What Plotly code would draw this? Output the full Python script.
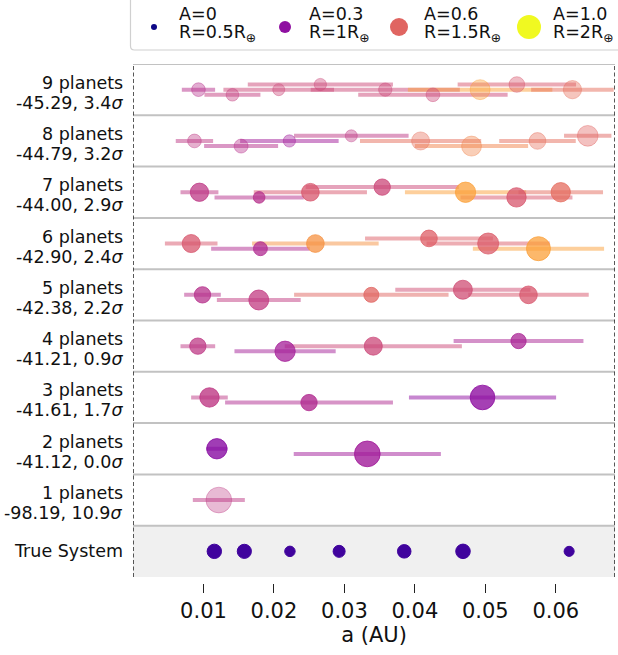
import plotly.graph_objects as go
from plotly.colors import sample_colorscale, unlabel_rgb

# ---------------------------------------------------------------- data
# Model rows, top to bottom: 9 planets ... 1 planet
n_planets = [9, 8, 7, 6, 5, 4, 3, 2, 1]
log_like = ["-45.29", "-44.79", "-44.00", "-42.90", "-42.38",
            "-41.21", "-41.61", "-41.12", "-98.19"]
sigma = ["3.4", "3.2", "2.9", "2.4", "2.2", "0.9", "1.7", "0.0", "10.9"]

# semi-major axis (AU) of each fitted planet
semimajor = [
    [0.00929, 0.01411, 0.02068, 0.02659, 0.0358, 0.04256, 0.04926, 0.05447, 0.06236],
    [0.00872, 0.01534, 0.02219, 0.03098, 0.04081, 0.04804, 0.0574, 0.06453],
    [0.00943, 0.0179, 0.02517, 0.03537, 0.04719, 0.05442, 0.0607],
    [0.00826, 0.01808, 0.02588, 0.042, 0.0504, 0.05754],
    [0.00986, 0.01785, 0.03382, 0.04681, 0.05612],
    [0.0092, 0.02158, 0.0341, 0.05471],
    [0.01085, 0.02498, 0.0496],
    [0.0119, 0.03325],
    [0.01218],
]
# 1-sigma uncertainty on the semi-major axis (AU)
semimajor_err = [
    [0.00236, 0.00397, 0.00785, 0.0103, 0.01058, 0.0106, 0.01025, 0.0084, 0.00586],
    [0.00265, 0.00525, 0.00699, 0.00813, 0.0086, 0.00803, 0.00543, 0.00336],
    [0.00269, 0.00633, 0.00803, 0.01087, 0.0086, 0.00794, 0.006],
    [0.00373, 0.00699, 0.00898, 0.00907, 0.00874, 0.00931],
    [0.0026, 0.00595, 0.01096, 0.00959, 0.00855],
    [0.00246, 0.00718, 0.01257, 0.00921],
    [0.0026, 0.01191, 0.01044],
    [0.00151, 0.01044],
    [0.00369],
]
# planet radius (Earth radii)
radius = [
    [1.06, 0.97, 0.92, 0.94, 1.03, 1.06, 1.58, 1.22, 1.44],
    [1.06, 1.08, 0.94, 0.92, 1.42, 1.58, 1.31, 1.64],
    [1.44, 0.89, 1.39, 1.28, 1.61, 1.53, 1.53],
    [1.42, 1.08, 1.39, 1.31, 1.67, 1.92],
    [1.28, 1.58, 1.17, 1.5, 1.39],
    [1.28, 1.61, 1.42, 1.19],
    [1.53, 1.28, 1.97],
    [1.61, 2.06],
    [2.06],
]
# albedo
albedo = [
    [0.42, 0.47, 0.5, 0.5, 0.5, 0.5, 0.78, 0.55, 0.63],
    [0.45, 0.42, 0.35, 0.45, 0.63, 0.7, 0.63, 0.6],
    [0.45, 0.42, 0.55, 0.5, 0.78, 0.55, 0.62],
    [0.55, 0.4, 0.74, 0.58, 0.57, 0.78],
    [0.42, 0.46, 0.6, 0.52, 0.55],
    [0.45, 0.36, 0.5, 0.38],
    [0.45, 0.4, 0.3],
    [0.28, 0.35],
    [0.45],
]

# true system
true_a = [0.01154, 0.01580, 0.02227, 0.02925, 0.03849, 0.04683, 0.06189]
true_r = [1.116, 1.097, 0.788, 0.920, 1.045, 1.129, 0.755]
true_albedo = 0.1

# legend entries
legend_A = [0, 0.3, 0.6, 1.0]
legend_R = [0.5, 1, 1.5, 2]
legend_A_text = ["A=0", "A=0.3", "A=0.6", "A=1.0"]
legend_R_text = ["R=0.5R", "R=1R", "R=1.5R", "R=2R"]

# ---------------------------------------------------------------- style
W, H = 618, 655
BOTTOM = 72
PH = H - BOTTOM          # height of the paper area in px
X_MAX = 0.0684
ROW_PX = 51.3
Y_MIN = -6 / ROW_PX
FONT = "DejaVu Sans"
row_alpha = [0.4, 0.4, 0.75, 0.75, 0.75, 0.75, 0.8, 0.8, 0.35]
BAR_ALPHA = 0.5
JITTER = 0.1
jitter_cycle = [0, -1, 0, 1]


def px_x(px):
    return px / W


def px_y(py):
    return (PH - py) / PH


def size_of(r):
    return 1 + 12 * r


def plasma(a, alpha=1.0):
    r, g, b = unlabel_rgb(sample_colorscale("Plasma", [a])[0])
    return f"rgba({r:.0f},{g:.0f},{b:.0f},{alpha})"


fig = go.Figure()

# error bars first, markers on top
marker_traces = []
for k, n in enumerate(n_planets):
    yc = n + 0.5
    ys = [yc + JITTER * jitter_cycle[i % 4] for i in range(len(semimajor[k]))]
    for a, e, A, y in zip(semimajor[k], semimajor_err[k], albedo[k], ys):
        fig.add_trace(go.Scatter(
            x=[a - e, a + e], y=[y, y], mode="lines",
            line=dict(color=plasma(A, BAR_ALPHA), width=4),
            hoverinfo="skip", showlegend=False))
    cols = [plasma(A, row_alpha[k]) for A in albedo[k]]
    marker_traces.append(go.Scatter(
        x=semimajor[k], y=ys, mode="markers",
        marker=dict(size=[size_of(r) for r in radius[k]], color=cols,
                    opacity=1, line=dict(color=cols, width=1)),
        showlegend=False))
for t in marker_traces:
    fig.add_trace(t)

fig.add_trace(go.Scatter(
    x=true_a, y=[0.5] * len(true_a), mode="markers",
    marker=dict(size=[size_of(r) for r in true_r], color=plasma(true_albedo),
                opacity=1, line=dict(color=plasma(true_albedo), width=1)),
    showlegend=False))

# legend drawn on its own pixel-scaled axes
leg_marker_x = [154, 285, 399, 529]
leg_text_x = [177, 307, 422, 551]
fig.add_trace(go.Scatter(
    x=leg_marker_x, y=[27] * 4, mode="markers", xaxis="x2", yaxis="y2",
    marker=dict(size=[size_of(r) - 1 for r in legend_R], opacity=1,
                color=[plasma(a) for a in legend_A], line=dict(width=0)),
    showlegend=False))

annotations = []
for i in range(4):
    annotations.append(dict(x=leg_text_x[i], y=14, xref="x2", yref="y2",
                            text=legend_A_text[i], showarrow=False,
                            xanchor="left", yanchor="middle",
                            font=dict(family=FONT, size=17.5, color="#111")))
    annotations.append(dict(x=leg_text_x[i], y=33, xref="x2", yref="y2",
                            text=legend_R_text[i] + "<sub>⊕</sub>",
                            showarrow=False, xanchor="left", yanchor="middle",
                            font=dict(family=FONT, size=17.5, color="#111")))

# row labels
for k, n in enumerate(n_planets):
    annotations.append(dict(x=px_x(125), y=n + 0.5, xref="paper", yref="y",
                            text=f"{n} planets", showarrow=False,
                            xanchor="right", yanchor="middle", yshift=7,
                            font=dict(family=FONT, size=17.5, color="#111")))
    annotations.append(dict(x=px_x(125), y=n + 0.5, xref="paper", yref="y",
                            text=f"{log_like[k]}, {sigma[k]}<i>σ</i>",
                            showarrow=False, xanchor="right",
                            yanchor="middle", yshift=-13,
                            font=dict(family=FONT, size=17.5, color="#111")))
annotations.append(dict(x=px_x(125), y=0.5, xref="paper", yref="y",
                        text="True System", showarrow=False,
                        xanchor="right", yanchor="middle",
                        font=dict(family=FONT, size=17.5, color="#111")))

shapes = [
    dict(type="rect", xref="x", yref="y", x0=0, x1=X_MAX, y0=0, y1=1,
         fillcolor="#f0f0f0", line=dict(width=0), layer="below"),
]
for yv in range(1, 11):
    shapes.append(dict(type="line", xref="x", yref="y", x0=0, x1=X_MAX,
                       y0=yv, y1=yv, line=dict(color="#c2c2c2", width=2),
                       layer="below"))
for xv in (0, X_MAX):
    shapes.append(dict(type="line", xref="x", yref="y", x0=xv, x1=xv,
                       y0=0, y1=10,
                       line=dict(color="#222", width=1.5, dash="4px,2.5px")))

# legend frame with a rounded lower-left corner
lx0, lx1, ly0, ly1, rad = px_x(130.5), px_x(640), px_y(50), px_y(-10), 4
rx, ry = rad / W, rad / PH
shapes.append(dict(
    type="path", xref="paper", yref="paper",
    path=(f"M {lx0},{ly1} L {lx0},{ly0 + ry} Q {lx0},{ly0} {lx0 + rx},{ly0} "
          f"L {lx1},{ly0}"),
    line=dict(color="#d0d0d0", width=1.2)))

fig.update_layout(
    width=W, height=H,
    margin=dict(l=0, r=0, t=0, b=BOTTOM),
    paper_bgcolor="white", plot_bgcolor="white",
    showlegend=False,
    font=dict(family=FONT, color="#111"),
    xaxis=dict(domain=[px_x(133), px_x(615)], range=[0, X_MAX],
               tickvals=[0.01, 0.02, 0.03, 0.04, 0.05, 0.06],
               ticktext=["0.01", "0.02", "0.03", "0.04", "0.05", "0.06"],
               ticks="outside", ticklen=9, tickwidth=1.2, tickcolor="#222",
               tickfont=dict(size=21, family=FONT, color="#111"),
               showgrid=False, zeroline=False, showline=False,
               title=dict(text="a (AU)", font=dict(size=21, family=FONT),
                          standoff=4)),
    yaxis=dict(domain=[0, px_y(64)], range=[Y_MIN, 10], visible=False,
               showgrid=False, zeroline=False),
    xaxis2=dict(domain=[px_x(130), 1], range=[130, 618], visible=False,
                anchor="y2"),
    yaxis2=dict(domain=[px_y(50), 1], range=[50, 0], visible=False,
                anchor="x2"),
    annotations=annotations,
    shapes=shapes,
)

fig.write_html("out.html")
